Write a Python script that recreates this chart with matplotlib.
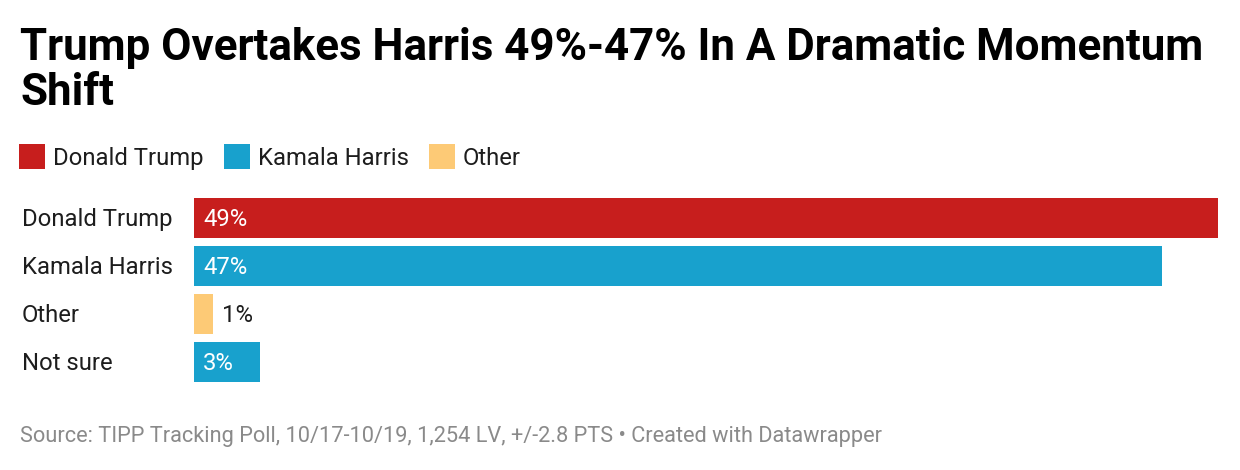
import matplotlib.pyplot as plt
import matplotlib.patches as patches
from matplotlib.transforms import blended_transform_factory

# Data
categories = ['Donald Trump', 'Kamala Harris', 'Other', 'Not sure']
values = [49.4, 46.7, 0.9, 3.2]
value_labels = ['49%', '47%', '1%', '3%']
bar_colors = ['#c71e1d', '#18a1cd', '#fdca76', '#18a1cd']
legend_names = ['Donald Trump', 'Kamala Harris', 'Other']
legend_colors = ['#c71e1d', '#18a1cd', '#fdca76']

title = 'Trump Overtakes Harris 49%-47% In A Dramatic Momentum\nShift'
footer = 'Source: TIPP Tracking Poll, 10/17-10/19, 1,254 LV, +/-2.8 PTS \u2022 Created with Datawrapper'

plt.rcParams['font.family'] = ['Roboto', 'DejaVu Sans']
W, H = 1240, 470
fig = plt.figure(figsize=(W / 100, H / 100), dpi=100, facecolor='white')

# bar area in pixel terms: x 194..1218, y 194..386 (from top)
ax = fig.add_axes([194 / W, 1 - 386 / H, 1024 / W, 192 / H])
ax.set_xlim(0, max(values))
ax.set_ylim(len(categories) - 0.5, -0.5)
ax.axis('off')

ypos = list(range(len(categories)))
ax.barh(ypos, values, height=0.83, color=bar_colors, zorder=2)

trans = blended_transform_factory(fig.transFigure, ax.transData)
for i, (cat, v, lab) in enumerate(zip(categories, values, value_labels)):
    ax.text(22 / W, i + 0.03, cat, transform=trans, ha='left', va='center',
            fontsize=17.2, color='#1d1d1d')
    if v > 2:
        ax.text(0.43, i + 0.03, lab, ha='left', va='center', fontsize=17.2,
                color='white', zorder=3)
    else:
        ax.text(v + 0.45, i + 0.03, lab, ha='left', va='center', fontsize=17.2,
                color='#1d1d1d', zorder=3)

# Title
fig.text(20 / W, 1 - 27 / H, title, ha='left', va='top', fontsize=31.6,
         fontweight='bold', color='#000000', linespacing=1.1)

# Legend
handles = [patches.Patch(facecolor=c, edgecolor='none', label=n)
           for n, c in zip(legend_names, legend_colors)]
fig.legend(handles=handles, loc='upper left', bbox_to_anchor=(19 / W, 1 - 144 / H),
           ncol=3, frameon=False, fontsize=17.2, handlelength=1.1, handleheight=1.25,
           handletextpad=0.32, columnspacing=0.85, borderpad=0, borderaxespad=0,
           labelcolor='#1d1d1d')

# Footer
fig.text(20 / W, 1 - 442 / H, footer, ha='left', va='baseline', fontsize=15.7,
         color='#8a8a8a')

fig.savefig('out.png', dpi=100, facecolor='white')
